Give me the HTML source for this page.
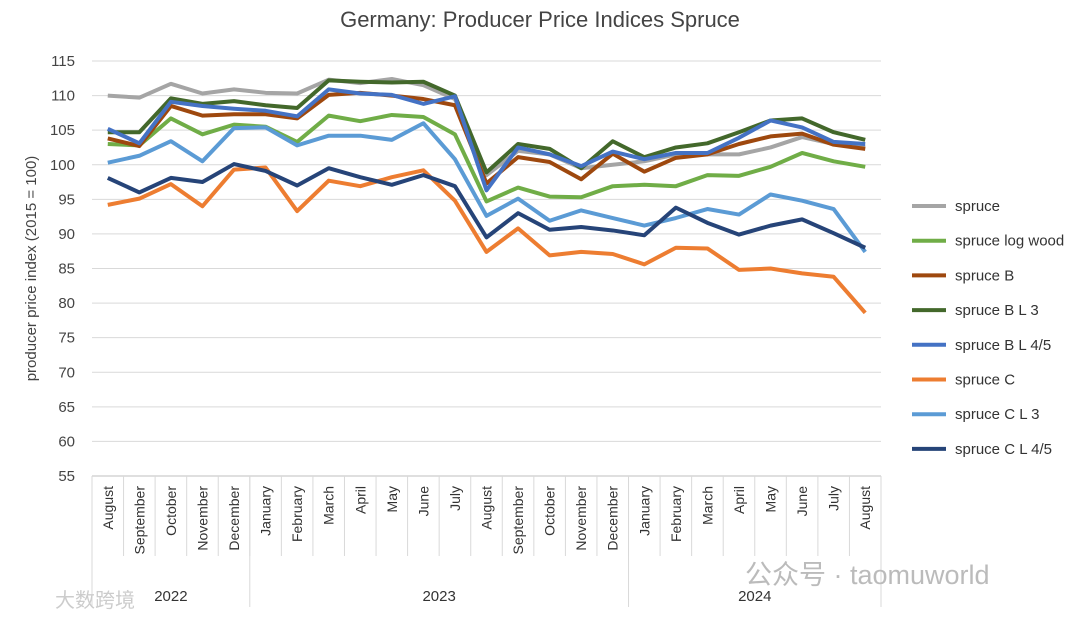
<!DOCTYPE html>
<html><head><meta charset="utf-8"><style>
body{margin:0;background:#fff;width:1080px;height:618px;overflow:hidden;font-family:"Liberation Sans","Noto Sans CJK SC",sans-serif}
</style></head><body>
<svg id="c" width="1080" height="618" xmlns="http://www.w3.org/2000/svg" font-family="Liberation Sans, Noto Sans CJK SC, sans-serif"></svg>
<script>
const months=["August","September","October","November","December","January","February","March","April","May","June","July","August","September","October","November","December","January","February","March","April","May","June","July","August"];
const years=["2022","2023","2024"];
const yearCounts=[5,12,8];
const yTicks=[55,60,65,70,75,80,85,90,95,100,105,110,115];
const seriesNames=["spruce","spruce log wood","spruce B","spruce B L 3","spruce B L 4/5","spruce C","spruce C L 3","spruce C L 4/5"];
const colors=["#a5a5a5","#70ad47","#9e480e","#43682b","#4472c4","#ed7d31","#5b9bd5","#264478"];
const sSpruce=[110,109.7,111.7,110.3,110.9,110.4,110.3,112.3,111.8,112.4,111.5,109.5,98.5,102,101.5,99.5,100,100.5,101.5,101.5,101.5,102.5,104,103,102.5];
const sLog=[103,102.8,106.7,104.4,105.8,105.5,103.3,107.1,106.3,107.2,106.9,104.4,94.7,96.7,95.4,95.3,96.9,97.1,96.9,98.5,98.4,99.7,101.7,100.5,99.7];
const sB=[103.8,102.7,108.5,107.1,107.3,107.3,106.7,110.1,110.4,110.0,109.5,108.6,97.3,101.1,100.4,97.9,101.6,99.0,101.0,101.5,103,104.1,104.5,102.9,102.3];
const sBL3=[104.7,104.7,109.6,108.8,109.2,108.6,108.2,112.2,112,111.9,112,110,98.9,103,102.3,99.5,103.4,101.1,102.5,103.1,104.7,106.4,106.7,104.7,103.6];
const sBL45=[105.2,103.1,109.1,108.5,108.1,107.8,107.0,110.9,110.3,110.1,108.8,109.9,96.3,102.5,101.5,99.8,101.9,100.8,101.7,101.7,103.9,106.4,105.4,103.3,103.0];
const sC=[94.2,95.1,97.2,94.0,99.3,99.6,93.3,97.7,96.9,98.2,99.2,94.8,87.4,90.8,86.9,87.4,87.1,85.6,88.0,87.9,84.8,85.0,84.3,83.8,78.6];
const sCL3=[100.3,101.3,103.4,100.5,105.3,105.4,102.8,104.2,104.2,103.6,106.0,100.8,92.6,95.1,91.9,93.4,92.3,91.2,92.3,93.6,92.8,95.7,94.8,93.6,87.4];
const sCL45=[98.1,96.0,98.1,97.5,100.1,99.1,97.0,99.5,98.2,97.1,98.5,96.9,89.5,93.0,90.6,91.0,90.5,89.8,93.8,91.6,89.9,91.2,92.1,90.1,88.0];
const series=[sSpruce,sLog,sB,sBL3,sBL45,sC,sCL3,sCL45];

const svg=document.getElementById('c');const NS="http://www.w3.org/2000/svg";
function el(t,a,txt){const e=document.createElementNS(NS,t);for(const k in a)e.setAttribute(k,a[k]);if(txt!=null)e.textContent=txt;svg.appendChild(e);return e;}
const L=92,R=881,T=61,B=476,ymin=55,ymax=115;
const step=(R-L)/months.length;
const x=i=>L+step*(i+0.5);
const y=v=>B-(v-ymin)/(ymax-ymin)*(B-T);

let t=el('text',{x:540,y:27,'text-anchor':'middle','font-size':22,fill:'#444'},'Germany: Producer Price Indices Spruce');

yTicks.forEach(v=>{
  const g=el('line',{x1:L,x2:R,y1:y(v),y2:y(v),stroke:'#d9d9d9','stroke-width':1});
  
  const tl=el('text',{x:L-17,y:y(v)+5,'text-anchor':'end','font-size':15,fill:'#444'},String(v));
  
});
const yt=el('text',{transform:`translate(36,${(T+B)/2}) rotate(-90)`,'text-anchor':'middle','font-size':15,fill:'#444'},'producer price index (2015 = 100)');

// category axis
let ax=el('line',{x1:L,x2:R,y1:B,y2:B,stroke:'#bfbfbf'});
for(let i=0;i<=months.length;i++){const tk=el('line',{x1:L+step*i,x2:L+step*i,y1:B,y2:B+80,stroke:'#d9d9d9'});}
months.forEach((m,i)=>{const ml=el('text',{transform:`translate(${x(i)+5},${B+10}) rotate(-90)`,'text-anchor':'end','font-size':14,fill:'#333'},m);});
let acc=0;
years.forEach((yr,k)=>{
  const x0=L+step*acc;acc+=yearCounts[k];const x1=L+step*acc;
  const sp=el('line',{x1:x1,x2:x1,y1:B,y2:607,stroke:'#d9d9d9'});
  if(k==0){const s0=el('line',{x1:x0,x2:x0,y1:B,y2:607,stroke:'#d9d9d9'});}
  const yl=el('text',{x:(x0+x1)/2,y:601,'text-anchor':'middle','font-size':15,fill:'#333'},yr);
});
series.forEach((s,j)=>{
  const p=el('polyline',{points:s.map((v,i)=>x(i)+','+y(v)).join(' '),fill:'none',stroke:colors[j],'stroke-width':4,'stroke-linejoin':'round'});
  
  const ly=206+j*34.7;
  const ll=el('line',{x1:912,x2:946,y1:ly,y2:ly,stroke:colors[j],'stroke-width':4});
  
  const lt=el('text',{x:955,y:ly+5,'font-size':15,fill:'#333'},seriesNames[j]);
  
});
const w1=el('text',{x:745,y:584,'font-size':27,fill:'#bbb'},'公众号 · taomuworld');
const w2=el('text',{x:55,y:607,'font-size':20,fill:'#ccc'},'大数跨境');
</script>
</body></html>
